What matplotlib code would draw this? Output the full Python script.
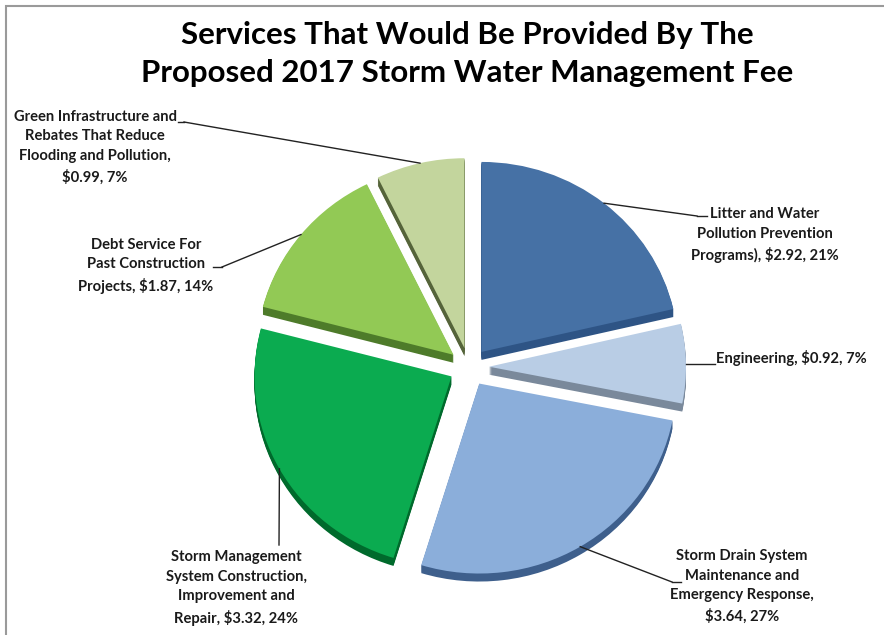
import numpy as np
import matplotlib
matplotlib.use('Agg')
import matplotlib.pyplot as plt
from matplotlib.patches import Rectangle

# ---------------- data ----------------
labels = ['Litter and Water\nPollution Prevention\nPrograms)',
          'Engineering',
          'Storm Drain System\nMaintenance and\nEmergency Response',
          'Storm Management\nSystem Construction,\nImprovement and\nRepair',
          'Debt Service For\nPast Construction\nProjects',
          'Green Infrastructure and\nRebates That Reduce\nFlooding and Pollution']
values = [2.92, 0.92, 3.64, 3.32, 1.87, 0.99]
pcts = ['21%', '7%', '27%', '24%', '14%', '7%']
colors = ['#4671A5', '#B9CDE5', '#8BAEDA', '#0BAB50', '#92C955', '#C3D59D']
sides = ['#2E5485', '#7A899B', '#3E5F8C', '#006A2C', '#4E7B2A', '#55643A']

W, H = 884, 635
SY = 1.037          # slight vertical squash (3d tilt)
cx, cy, R = 469, 635 - 367, 197
depth = 8
expl = [20] * 6     # explode offset, px

fig = plt.figure(figsize=(W / 100, H / 100), dpi=100)
ax = fig.add_axes([0, 0, 1, 1])

# side (extruded) part, drawn as stacked darker copies
for d in range(depth, 0, -1):
    ax.pie(values, colors=sides, startangle=90, counterclock=False,
           explode=expl, radius=R, center=(cx, (cy - d) * SY),
           wedgeprops=dict(linewidth=0), frame=True)
wedges, _ = ax.pie(values, colors=colors, startangle=90, counterclock=False,
                   explode=expl, radius=R, center=(cx, cy * SY),
                   wedgeprops=dict(linewidth=0), frame=True)

ax.set_aspect('auto')
ax.set_xlim(0, W)
ax.set_ylim(0, H * SY)
ax.axis('off')

# label layout (pixel positions from the top-left corner)
# text x, text y (top), ha, elbow x, elbow y, tail x, value on new line
layout = [
    (765, 207, 'center', 697, 216, 707, False),
    (716, 350, 'left', None, None, 715, False),
    (742, 549, 'center', 672, 582, 681, True),
    (236, 550, 'center', 279, 545, None, False),
    (146, 238, 'center', 222, 267, 213, False),
    (95, 110, 'center', 184, 122, 178, True),
]

lab_font = dict(family='Lato', fontweight='bold', fontsize=10.6, color='#1a1a1a')

def px(x, y):
    return x, (H - y) * SY

for w, lab, v, p, (tx, ty, ha, ex, ey, tail, brk) in zip(wedges, labels, values, pcts, layout):
    ang = np.deg2rad((w.theta1 + w.theta2) / 2)
    ax0, ay0 = w.center
    anchor = (ax0 + R * np.cos(ang), ay0 + R * np.sin(ang))
    txt = f'{lab},' + ('\n' if brk else ' ') + f'${v:.2f}, {p}'
    ax.text(*px(tx, ty), txt, ha=ha, va='top', multialignment='center',
            linespacing=1.5, **lab_font)
    if ex is None:
        # straight horizontal leader
        ax.plot([anchor[0], tail], [anchor[1], anchor[1]], color='#222222', lw=1)
    else:
        e = px(ex, ey)
        ax.plot([anchor[0], e[0]], [anchor[1], e[1]], color='#222222', lw=1)
        if tail is not None:
            ax.plot([e[0], tail], [e[1], e[1]], color='#222222', lw=1)

fig.text(467 / W, 1 - 21 / H,
         'Services That Would Be Provided By The\nProposed 2017 Storm Water Management Fee',
         ha='center', va='top', multialignment='center', family='Lato',
         fontweight='bold', fontsize=22.5, linespacing=1.42)

fig.patches.append(Rectangle((6 / W, -0.05), 1.2, 1.05 - 6 / H, transform=fig.transFigure,
                             fill=False, edgecolor='#9a9a9a', lw=1.5))

fig.savefig('out.png', dpi=100)
